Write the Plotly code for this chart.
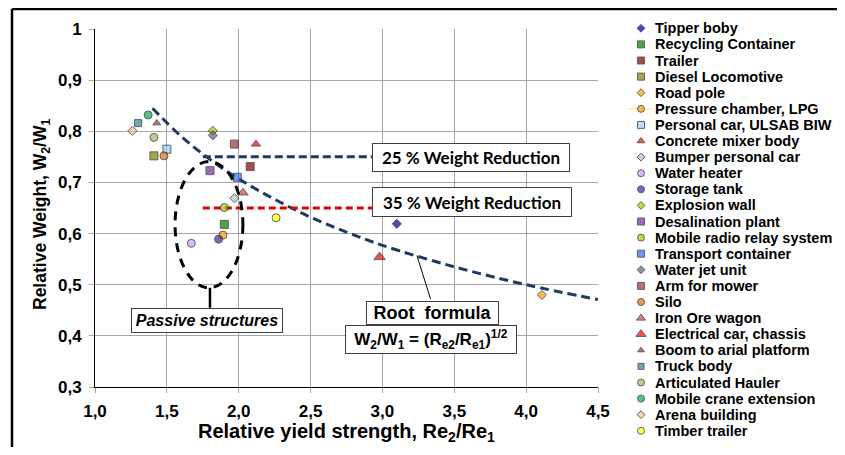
import plotly.graph_objects as go

# ---------------- data ----------------
names = ["Tipper boby", "Recycling Container", "Trailer", "Diesel Locomotive", "Road pole",
         "Pressure chamber, LPG", "Personal car, ULSAB BIW", "Concrete mixer body",
         "Bumper personal car", "Water heater", "Storage tank", "Explosion wall",
         "Desalination plant", "Mobile radio relay system", "Transport container",
         "Water jet unit", "Arm for mower", "Silo", "Iron Ore wagon", "Electrical car, chassis",
         "Boom to arial platform", "Truck body", "Articulated Hauler", "Mobile crane extension",
         "Arena building", "Timber trailer"]
x_vals = [3.10, 1.90, 2.08, 1.41, 4.11, 1.89, 1.50, 2.12, 1.97, 1.67, 1.86, 1.82, 1.80, 1.90,
          1.99, 1.82, 1.97, 1.48, 2.03, 2.98, 1.43, 1.30, 1.41, 1.37, 1.26, 2.26]
y_vals = [0.619, 0.618, 0.731, 0.752, 0.480, 0.597, 0.765, 0.775, 0.669, 0.581, 0.589, 0.801,
          0.723, 0.651, 0.710, 0.792, 0.775, 0.752, 0.680, 0.554, 0.816, 0.816, 0.788, 0.832,
          0.801, 0.631]
symbols = ["diamond", "square", "square", "square", "diamond", "circle", "square", "triangle-up",
           "diamond", "circle", "circle", "diamond", "square", "circle", "square", "diamond",
           "square", "circle", "triangle-up", "triangle-up", "triangle-up", "square", "circle",
           "circle", "diamond", "circle"]
colors = ["#000080", "#008000", "#800000", "#808000", "#FF9900", "#FF9900", "#99CCFF", "#FF0000",
          "#C0C0C0", "#CC99FF", "#333399", "#99CC00", "#7030A0", "#99CC00", "#3366FF", "#666699",
          "#993333", "#E46C0A", "#C0504D", "#FF0000", "#953735", "#31859C", "#9BBB59", "#00B050",
          "#FAC090", "#FFFF00"]
sizes = [7, 8, 8, 8, 7, 8, 8, 8, 7, 8, 8, 7, 8, 8, 8, 7, 8, 8, 9, 10, 7, 7, 8, 8, 7, 8]

# root formula curve
curve_x = [1.40, 1.60, 1.80, 2.00, 2.25, 2.50, 2.75, 3.00, 3.50, 4.00, 4.50]
curve_y = [0.845, 0.790, 0.745, 0.707, 0.667, 0.632, 0.603, 0.577, 0.535, 0.500, 0.471]

# weight-reduction reference lines
red25_x = [1.75, 2.93]
red25_y = [0.75, 0.75]
red35_x = [1.75, 2.93]
red35_y = [0.65, 0.65]

x_ticks = [1.0, 1.5, 2.0, 2.5, 3.0, 3.5, 4.0, 4.5]
x_ticktext = ["1,0", "1,5", "2,0", "2,5", "3,0", "3,5", "4,0", "4,5"]
y_ticks = [0.3, 0.4, 0.5, 0.6, 0.7, 0.8, 0.9, 1.0]
y_ticktext = ["0,3", "0,4", "0,5", "0,6", "0,7", "0,8", "0,9", "1"]

# ---------------- layout constants ----------------
# The page body has an 8px margin, so the figure is drawn at (8, 8) in the window.
OFF = 8
VW, VH = 845, 455
W, H = VW - OFF, VH - 2 * OFF
PL, PR, PT, PB = 95, 598, 29, 387  # plot area in window pixels
FONT = "Arial, Liberation Sans, sans-serif"
NAVY = "#1F3A63"

def px(xp):
    return (xp - OFF) / W

def py(yp):
    return (H - (yp - OFF)) / H

line_colors = ["#000080" if c == "#000080" else "#202020" for c in colors]

fig = go.Figure()

fig.add_trace(go.Scatter(x=curve_x, y=curve_y, mode="lines",
                         line=dict(color=NAVY, width=3, dash="9px,5px", shape="spline"),
                         hoverinfo="skip", showlegend=False))
fig.add_trace(go.Scatter(x=red25_x, y=red25_y, mode="lines", line=dict(color=NAVY, width=3, dash="8px,4px"),
                         hoverinfo="skip", showlegend=False))
fig.add_trace(go.Scatter(x=red35_x, y=red35_y, mode="lines", line=dict(color="#E00000", width=3, dash="7px,4px"),
                         hoverinfo="skip", showlegend=False))
fig.add_trace(go.Scatter(x=x_vals, y=y_vals, mode="markers", text=names,
                         marker=dict(symbol=symbols, color=colors, size=sizes,
                                     line=dict(color=line_colors, width=1)),
                         showlegend=False))

# custom legend on a separate full-figure axis pair (x2 in window pixels, y2 in item index)
LEG_Y0, LEG_DY = 28.3, 16.1
leg_idx = list(range(len(names)))
fig.add_trace(go.Scatter(x=[641] * len(names), y=leg_idx, mode="markers", xaxis="x2", yaxis="y2",
                         marker=dict(symbol=symbols, color=colors, size=[s - 1 for s in sizes],
                                     line=dict(color=line_colors, width=1)),
                         hoverinfo="skip", showlegend=False, cliponaxis=False))

annotations = []
for i, n in enumerate(names):
    annotations.append(dict(x=653, y=i, xref="x2", yref="y2", text=n, showarrow=False,
                            xanchor="left", yanchor="middle",
                            font=dict(family=FONT, size=14.5, color="#000000", weight="bold")))

# axis titles
annotations.append(dict(x=px((PL + PR) / 2), y=py(432), xref="paper", yref="paper",
                        text="Relative yield strength, Re<sub>2</sub>/Re<sub>1</sub>", showarrow=False,
                        xanchor="center", yanchor="middle",
                        font=dict(family=FONT, size=20, color="#000000", weight="bold")))
annotations.append(dict(x=px(41), y=py(215), xref="paper", yref="paper", textangle=-90,
                        text="Relative Weight, W<sub>2</sub>/W<sub>1</sub>", showarrow=False,
                        xanchor="center", yanchor="middle",
                        font=dict(family=FONT, size=17.5, color="#000000", weight="bold")))

# text boxes
def box(cx, cy, w, h, text, font):
    return dict(x=px(cx), y=py(cy), xref="paper", yref="paper", text=text, showarrow=False,
                xanchor="center", yanchor="middle", width=w, height=h, borderpad=0,
                bgcolor="#FFFFFF", bordercolor="#404040", borderwidth=1, font=font)

calibri = dict(family="Lato, Open Sans, sans-serif", size=17, color="#000000", weight="bold")
annotations.append(box(471, 157.5, 196, 27, "25 % Weight Reduction", calibri))
annotations.append(box(472, 202, 198, 28, "35 % Weight Reduction", calibri))
annotations.append(box(432.5, 313, 131, 22, "Root  formula",
                       dict(family=FONT, size=18, color="#000000", weight="bold")))
annotations.append(box(431, 339.5, 170, 27,
                       "W<sub>2</sub>/W<sub>1</sub> = (R<sub>e2</sub>/R<sub>e1</sub>)<sup>1/2</sup>",
                       dict(family=FONT, size=17, color="#000000", weight="bold")))
annotations.append(box(207, 320.5, 150, 23, "<i>Passive structures</i>",
                       dict(family=FONT, size=16, color="#000000", weight="bold")))

shapes = [
    # passive-structures ellipse
    dict(type="circle", xref="x", yref="y", x0=1.557, x1=2.029, y0=0.494, y1=0.741,
         line=dict(color="#000000", width=3, dash="9px,7px"), layer="above"),
    # callout line ellipse -> box
    dict(type="line", xref="x", yref="y", x0=1.80, x1=1.80, y0=0.494, y1=0.455,
         line=dict(color="#000000", width=2.5)),
    # callout line root formula
    dict(type="line", xref="x", yref="y", x0=3.24, x1=3.335, y0=0.557, y1=0.472,
         line=dict(color="#000000", width=1)),
    # outer frame (left + top)
    dict(type="line", xref="paper", yref="paper", x0=px(12), x1=px(12), y0=0, y1=py(9),
         line=dict(color="#000000", width=2.5)),
    dict(type="line", xref="paper", yref="paper", x0=px(12), x1=1.01, y0=py(9), y1=py(9),
         line=dict(color="#000000", width=2.5)),
    # yellow legend line artifact
    dict(type="line", xref="x2", yref="y2", x0=628, x1=652, y0=5, y1=5,
         line=dict(color="#FFE680", width=1), layer="below"),
]

axis_font = dict(family=FONT, size=17, color="#000000", weight="bold")
fig.update_layout(
    width=W, height=H, margin=dict(l=0, r=0, t=0, b=0),
    paper_bgcolor="#FFFFFF", plot_bgcolor="rgba(0,0,0,0)",
    xaxis=dict(domain=[px(PL), px(PR)], range=[1.0, 4.5], tickvals=x_ticks, ticktext=x_ticktext,
               showgrid=True, gridcolor="#A6A6A6", gridwidth=1, zeroline=False,
               showline=True, linecolor="#000000", linewidth=1, mirror=False,
               ticks="outside", ticklen=5, tickcolor="#A6A6A6", tickfont=axis_font,
               ticklabelstandoff=4, automargin=False, fixedrange=True),
    yaxis=dict(domain=[py(PB), py(PT)], range=[0.3, 1.0], tickvals=y_ticks, ticktext=y_ticktext,
               showgrid=True, gridcolor="#A6A6A6", gridwidth=1, zeroline=False,
               showline=True, linecolor="#000000", linewidth=1, mirror=False,
               ticks="outside", ticklen=5, tickcolor="#A6A6A6", tickfont=axis_font,
               ticklabelstandoff=4, automargin=False, fixedrange=True),
    xaxis2=dict(domain=[0, 1], range=[OFF, VW], visible=False, anchor="y2", fixedrange=True),
    yaxis2=dict(domain=[0, 1],
                range=[(VH - OFF - LEG_Y0) / LEG_DY, (OFF - LEG_Y0) / LEG_DY],
                visible=False, anchor="x2", fixedrange=True),
    annotations=annotations, shapes=shapes, showlegend=False,
)

fig.write_html("out.html")
